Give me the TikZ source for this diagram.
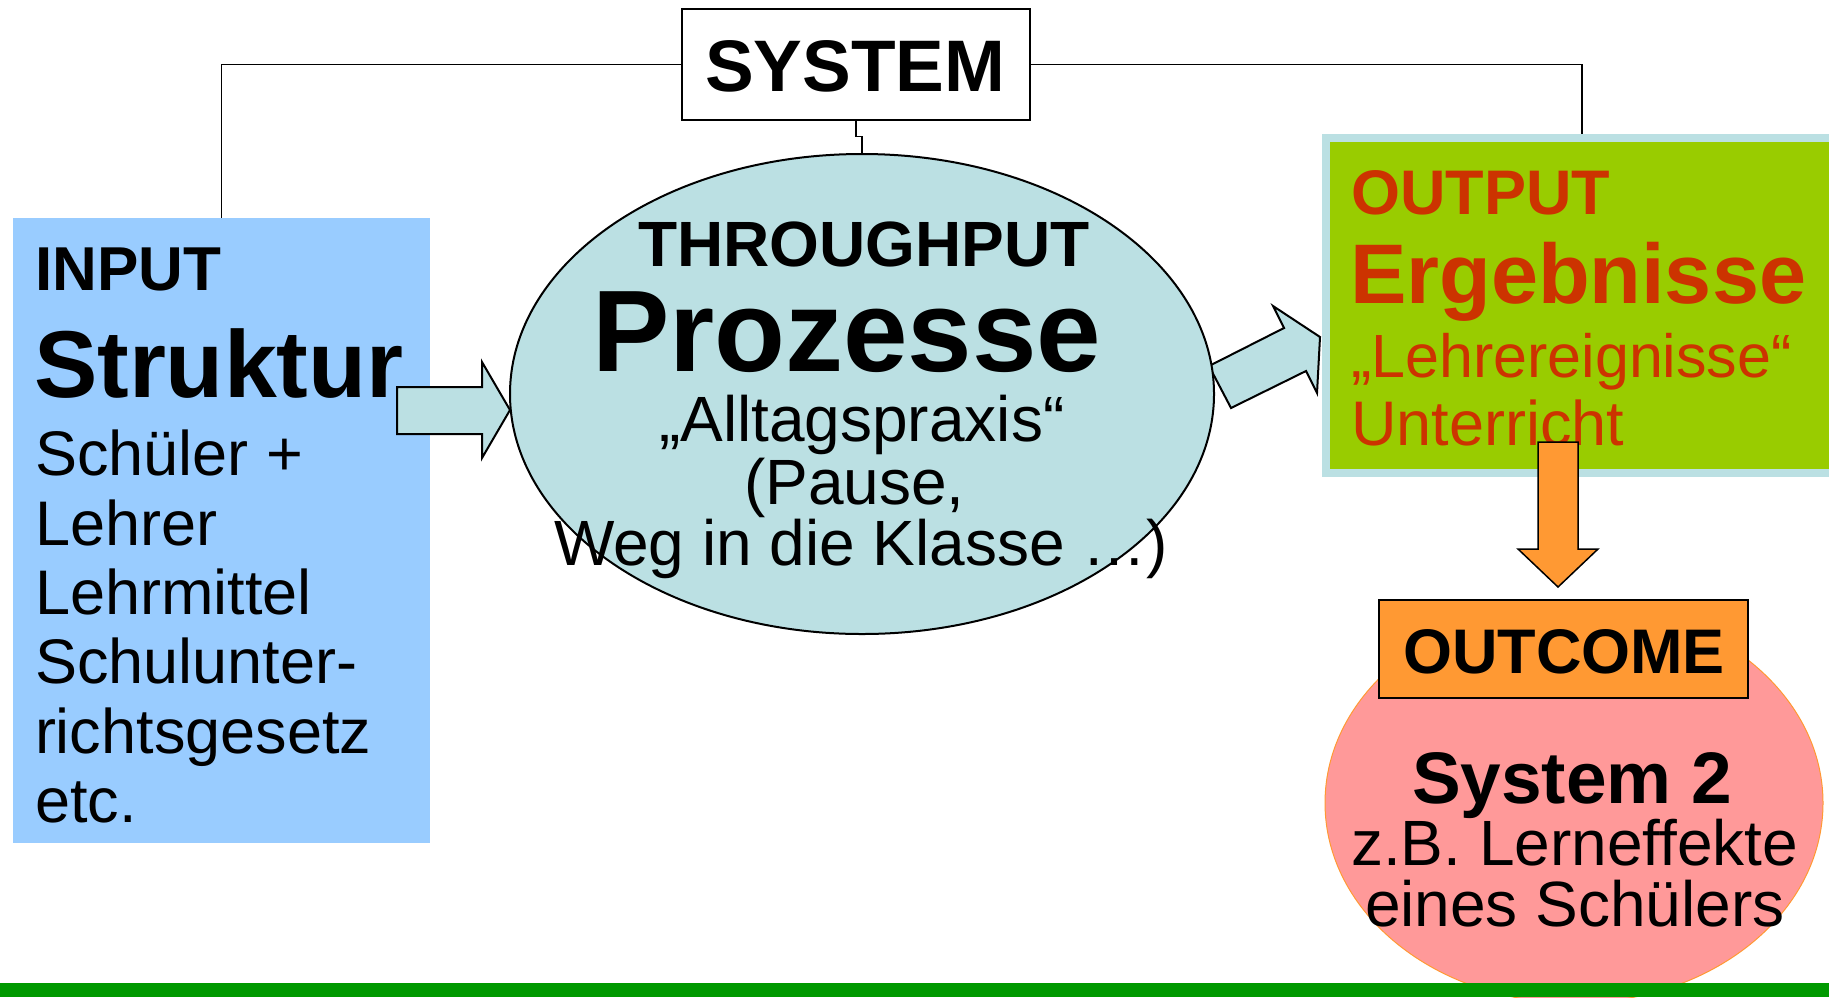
\documentclass[tikz,border=0pt]{standalone}
\usepackage{fontspec}
\setmainfont{Liberation Sans}
\usetikzlibrary{shapes.geometric}

\definecolor{inblue}{HTML}{99CCFF}
\definecolor{procteal}{HTML}{BBE0E3}
\definecolor{outgreen}{HTML}{99CC00}
\definecolor{outred}{HTML}{CC3300}
\definecolor{orng}{HTML}{FF9933}
\definecolor{rosefill}{HTML}{FF9999}
\definecolor{bargreen}{HTML}{009900}

\newcommand\sz[1]{\fontsize{#1}{#1}\selectfont}

\tikzset{
  txt/.style={inner sep=0pt, outer sep=0pt, anchor=base west},
  conn/.style={draw=black, line width=0.75pt},
  blockarrow/.style={draw=black, line width=1pt, line join=miter},
  panel/.style={inner sep=0pt, outer sep=0pt},
}

\begin{document}
\begin{tikzpicture}[x=0.5pt,y=-0.5pt]
\useasboundingbox (0,0) rectangle (1829,997);
\fill[white] (0,0) rectangle (1829,997);

% input and output panels
\node[panel, fill=inblue, minimum width=208.5pt, minimum height=312.5pt] (inp) at (221.5,530.5) {};
\node[panel, outer sep=2pt, draw=procteal, line width=4pt, fill=outgreen,
      minimum width=259.5pt, minimum height=167.5pt] (out) at (1585.5,305.5) {};

% block arrows into and out of the process
\draw[blockarrow, fill=procteal] (397,387) -- (482,387) -- (482,362) -- (510,410)
      -- (482,458) -- (482,434) -- (397,434) -- cycle;
\draw[blockarrow, fill=procteal] (1209,366) -- (1284,328) -- (1273,306) -- (1320,337)
      -- (1317,393) -- (1306,371) -- (1231,408) -- cycle;

% process ellipse
\node[ellipse, draw=black, line width=1pt, fill=procteal, minimum width=352pt,
      minimum height=240pt, inner sep=0pt, outer sep=0pt] (proc) at (862,394) {};

% system box and its links
\node[panel, draw=black, line width=1pt, fill=white, minimum width=174pt,
      minimum height=55.5pt] (sys) at (856,64.5) {};
\draw[conn] (sys.west) -| (inp.north);
\draw[conn] (sys.east) -| ([xshift=-1.75pt]out.north);
\draw[conn] (sys.south) -- ++(0,16.5) -| (proc.north);

\node[txt, font=\sz{36.5}\bfseries] (tsys) at (705,91) {SYSTEM};

% input texts
\node[txt, font=\sz{31}\bfseries] (tin1) at (35,290) {INPUT};
\node[txt, font=\sz{47.5}\bfseries] (tin2) at (34,397) {Struktur};
\node[txt, font=\sz{31.5}] (tin3) at (35,475) {Schüler +};
\node[txt, font=\sz{31.5}] (tin4) at (35,545) {Lehrer};
\node[txt, font=\sz{31.5}] (tin5) at (35,614) {Lehrmittel};
\node[txt, font=\sz{31.5}] (tin6) at (35,683) {Schulunter-};
\node[txt, font=\sz{31.5}] (tin7) at (35,753) {richtsgesetz};
\node[txt, font=\sz{31.5}] (tin8) at (35,822) {etc.};

% process texts
\node[txt, font=\sz{32}\bfseries] (tpr1) at (638,266) {THROUGHPUT};
\node[txt, font=\sz{58}\bfseries] (tpr2) at (592,371) {Prozesse};
\node[txt, font=\sz{32}] (tpr3) at (659,441) {„Alltagspraxis“};
\node[txt, font=\sz{32}] (tpr4) at (744,504) {(Pause,};
\node[txt, font=\sz{32}] (tpr5) at (554,565) {Weg in die Klasse …)};

% output texts
\node[txt, font=\sz{31.5}\bfseries, text=outred] (tou1) at (1351,214) {OUTPUT};
\node[txt, font=\sz{42.3}\bfseries, text=outred] (tou2) at (1350,303) {Ergebnisse};
\node[txt, font=\sz{30.5}, text=outred] (tou3) at (1351,377) {„Lehrereignisse“};
\node[txt, font=\sz{31.5}, text=outred] (tou4) at (1351,445) {Unterricht};

% arrow from output to outcome
\draw[blockarrow, line width=0.75pt, fill=orng] (1538,442) -- (1578,442) -- (1578,549)
      -- (1598,549) -- (1558,587) -- (1518,549) -- (1538,549) -- cycle;

% outcome ellipse and label box
\node[ellipse, draw=orng, line width=0.5pt, fill=rosefill, minimum width=249pt,
      minimum height=200pt, inner sep=0pt] (res) at (1574,803) {};
\node[panel, draw=black, line width=1pt, fill=orng, minimum width=184.5pt,
      minimum height=49pt] (outc) at (1563.5,649) {};
\node[txt, font=\sz{31.5}\bfseries] (toc) at (1403,673) {OUTCOME};

\node[txt, font=\sz{36.5}\bfseries] (tre1) at (1412,803) {System 2};
\node[txt, font=\sz{32}] (tre2) at (1351,865) {z.B. Lerneffekte};
\node[txt, font=\sz{32}] (tre3) at (1365,926) {eines Schülers};

% footer bar
\fill[bargreen] (0,983) rectangle (1829,997);
\end{tikzpicture}
\end{document}
